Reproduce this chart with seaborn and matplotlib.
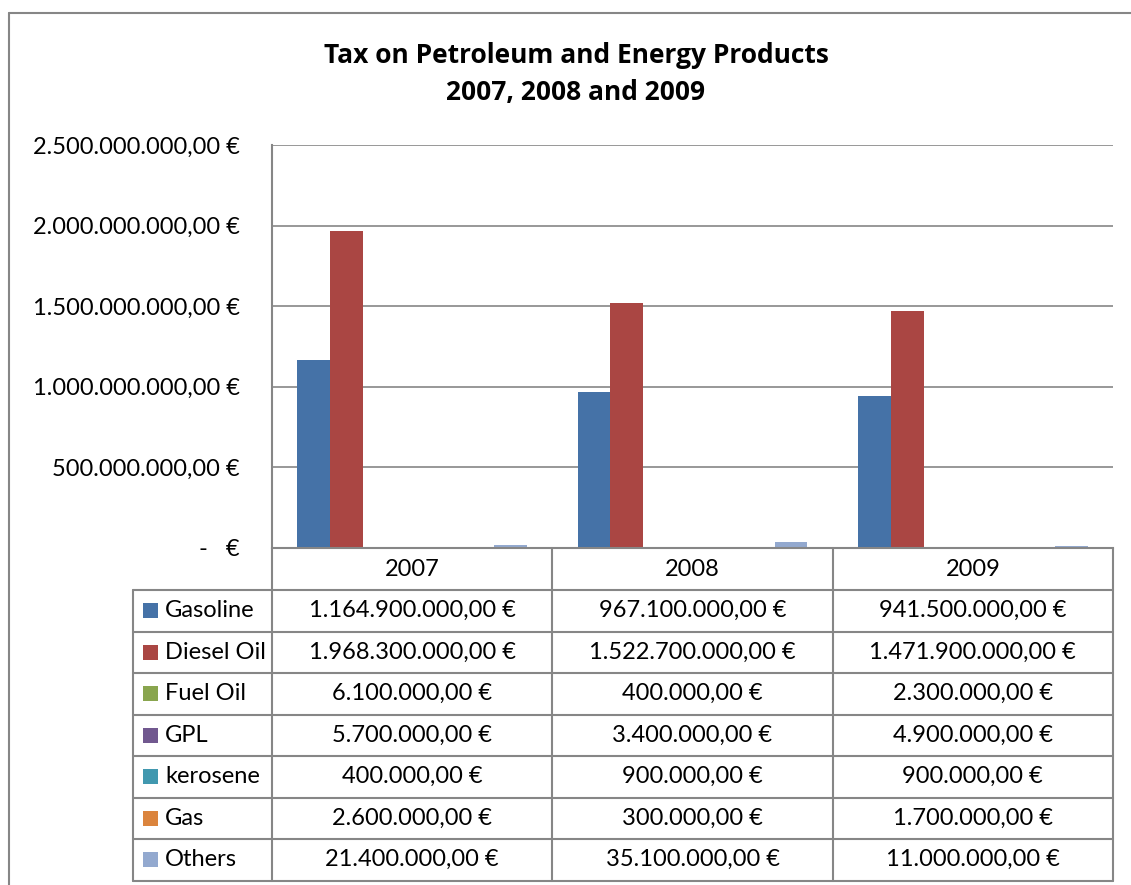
import numpy as np
import pandas as pd
import matplotlib
matplotlib.use("Agg")
import matplotlib.pyplot as plt
import seaborn as sns
from matplotlib.lines import Line2D
from matplotlib.patches import Rectangle

# -----------------------------
# Data
# -----------------------------
years = ["2007", "2008", "2009"]
products = ["Gasoline", "Diesel Oil", "Fuel Oil", "GPL", "kerosene", "Gas", "Others"]
gasoline = [1164900000, 967100000, 941500000]
diesel_oil = [1968300000, 1522700000, 1471900000]
fuel_oil = [6100000, 400000, 2300000]
gpl = [5700000, 3400000, 4900000]
kerosene = [400000, 900000, 900000]
gas = [2600000, 300000, 1700000]
others = [21400000, 35100000, 11000000]
colors = ["#4572A7", "#AA4643", "#89A54E", "#71588F", "#4198AF", "#DB843D", "#93A9CF"]

series = [gasoline, diesel_oil, fuel_oil, gpl, kerosene, gas, others]
rows = []
for name, vals in zip(products, series):
    for yr, v in zip(years, vals):
        rows.append({"Year": yr, "Product": name, "Value": v})
df = pd.DataFrame(rows)


def euro(v):
    if v == 0:
        return "-   €"
    s = f"{v:,.2f}"
    s = s.replace(",", "X").replace(".", ",").replace("X", ".")
    return s + " €"


# -----------------------------
# Layout (pixels)
# -----------------------------
W, H = 1131, 885
left, right, top, bottom = 272, 1113, 145, 548
label_left = 133
header_h = 42
row_h = 41.5
grid_col = "#868686"
fs = 17


def fx(x):
    return x / W


def fy(y):
    return 1 - y / H


sns.set_theme(style="white")
plt.rcParams["font.family"] = ["Lato", "DejaVu Sans"]
plt.rcParams["text.color"] = "black"
plt.rcParams["ytick.color"] = "black"

fig = plt.figure(figsize=(W / 100, H / 100), dpi=100)
ax = fig.add_axes([fx(left), fy(bottom), (right - left) / W, (bottom - top) / H])

sns.barplot(data=df, x="Year", y="Value", hue="Product", hue_order=products,
            palette=colors, width=0.82, dodge=True, gap=0, saturation=1,
            linewidth=0, legend=False, ax=ax)

ax.set_ylim(0, 2.5e9)
ax.set_xlim(-0.5, 2.5)
ax.set_yticks(np.arange(0, 2.5e9 + 1, 5e8))
ax.set_yticklabels([euro(v) for v in np.arange(0, 2.5e9 + 1, 5e8)], fontsize=fs)
ax.tick_params(axis="y", length=0, pad=23, labelcolor="black")
ax.set_xticks([])
ax.set_xlabel("")
ax.set_ylabel("")
ax.grid(axis="y", color=grid_col, linewidth=1.2)
ax.set_axisbelow(True)
for side in ["top", "right"]:
    ax.spines[side].set_visible(False)
ax.spines["left"].set_color(grid_col)
ax.spines["left"].set_linewidth(1.5)
ax.spines["bottom"].set_color(grid_col)
ax.spines["bottom"].set_linewidth(1.5)

# title
fig.text(fx(576), fy(74), "Tax on Petroleum and Energy Products\n2007, 2008 and 2009",
         ha="center", va="center", fontsize=19, fontweight="bold", linespacing=1.45,
         family=["Open Sans", "DejaVu Sans"])

# outer chart border
fig.add_artist(Line2D([fx(9), fx(9)], [fy(13), fy(H + 5)], color=grid_col, lw=1.5))
fig.add_artist(Line2D([fx(9), fx(W + 5)], [fy(13), fy(13)], color=grid_col, lw=1.5))

# -----------------------------
# Data table
# -----------------------------
col_w = (right - left) / len(years)
col_edges = [left + i * col_w for i in range(len(years) + 1)]
table_bottom = bottom + header_h + row_h * len(products)

# header row
for i, yr in enumerate(years):
    fig.text(fx(left + (i + 0.5) * col_w), fy(bottom + header_h / 2), yr,
             ha="center", va="center", fontsize=fs)

# horizontal lines
hlines = [bottom + header_h + r * row_h for r in range(len(products) + 1)]
for y in hlines:
    fig.add_artist(Line2D([fx(label_left), fx(right)], [fy(y), fy(y)], color=grid_col, lw=1.5))

# vertical lines
fig.add_artist(Line2D([fx(label_left), fx(label_left)],
                      [fy(bottom + header_h), fy(table_bottom)], color=grid_col, lw=1.5))
for x in col_edges:
    fig.add_artist(Line2D([fx(x), fx(x)], [fy(bottom), fy(table_bottom)], color=grid_col, lw=1.5))

for r, (name, vals, c) in enumerate(zip(products, series, colors)):
    yc = bottom + header_h + (r + 0.5) * row_h
    fig.add_artist(Rectangle((fx(143), fy(yc + 7.5)), 15 / W, 15 / H,
                             facecolor=c, edgecolor="none"))
    fig.text(fx(165), fy(yc), name, ha="left", va="center", fontsize=fs)
    for i, v in enumerate(vals):
        fig.text(fx(left + (i + 0.5) * col_w), fy(yc), euro(v),
                 ha="center", va="center", fontsize=fs)

plt.savefig("out.png", dpi=100)
